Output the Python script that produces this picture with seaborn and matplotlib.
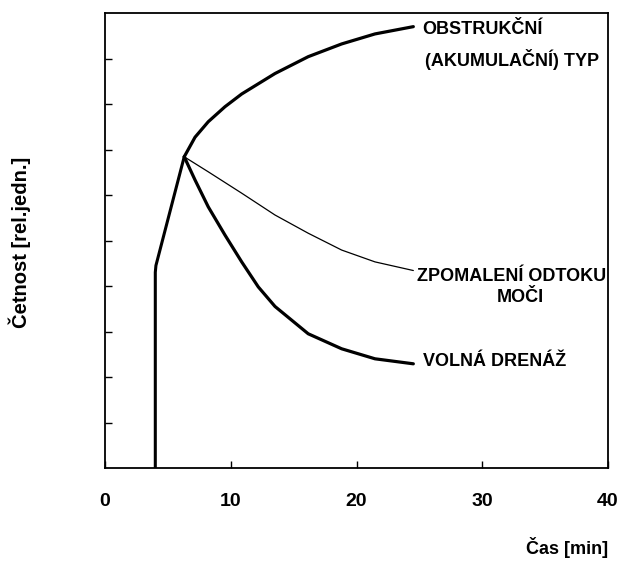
import matplotlib
matplotlib.use("Agg")
import matplotlib.pyplot as plt
import seaborn as sns
import pandas as pd

# time [min] / counts [rel. units]
rise_x = [4.0, 4.0, 4.05, 6.3]
rise_y = [0.0, 4.3, 4.45, 6.84]

obstr_x = [6.3, 7.16, 8.21, 9.54, 10.87, 13.52, 16.16, 18.82, 21.47, 24.52]
obstr_y = [6.84, 7.27, 7.61, 7.94, 8.22, 8.67, 9.04, 9.32, 9.54, 9.70]

slow_x = [6.3, 8.21, 10.87, 13.52, 16.16, 18.82, 21.47, 24.52]
slow_y = [6.84, 6.51, 6.04, 5.56, 5.16, 4.79, 4.53, 4.34]

free_x = [6.3, 7.16, 8.21, 9.54, 10.87, 12.19, 13.52, 16.16, 18.82, 21.47, 24.52]
free_y = [6.84, 6.33, 5.74, 5.12, 4.53, 3.98, 3.55, 2.95, 2.62, 2.40, 2.29]

x_ticks = [0, 10, 20, 30, 40]
y_ticks = [1, 2, 3, 4, 5, 6, 7, 8, 9]

sns.set_style("white")
plt.rcParams['font.family'] = ['Liberation Sans', 'DejaVu Sans']

fig = plt.figure(figsize=(6.21, 5.63), dpi=100)
ax = fig.add_axes([105 / 621, 95 / 563, 503 / 621, 455 / 563])

def curve(xs, ys, lw):
    df = pd.DataFrame({"t": xs, "c": ys})
    sns.lineplot(data=df, x="t", y="c", sort=False, estimator=None,
                 color="black", linewidth=lw, ax=ax,
                 solid_capstyle="round", solid_joinstyle="round")

curve(rise_x, rise_y, 2.2)
curve(obstr_x, obstr_y, 2.3)
curve(slow_x, slow_y, 0.9)
curve(free_x, free_y, 2.3)

ax.set_xlim(0, 40)
ax.set_ylim(0, 10)
ax.set_xticks(x_ticks)
ax.set_yticks(y_ticks)
ax.set_yticklabels([])
ax.set_xlabel("")
ax.set_ylabel("")
ax.tick_params(axis="both", direction="in", length=5, width=1,
               color="black", bottom=True, left=True)
ax.tick_params(axis="x", pad=18, labelsize=14, labelcolor="black")
for lbl in ax.get_xticklabels():
    lbl.set_fontweight("bold")
for s in ax.spines.values():
    s.set_visible(True)
    s.set_color("black")
    s.set_linewidth(1.3)

kw = dict(fontsize=13, fontweight="bold", va="center", ha="left", color="black")
ax.text(25.2, 9.63, "OBSTRUKČNÍ", **kw)
ax.text(25.45, 8.97, "(AKUMULAČNÍ) TYP", **kw)
ax.text(24.8, 4.20, "ZPOMALENÍ ODTOKU", **kw)
ax.text(33.0, 3.74, "MOČI", fontsize=13, fontweight="bold", va="center",
        ha="center", color="black")
ax.text(25.3, 2.33, "VOLNÁ DRENÁŽ", **kw)

fig.text(567 / 621, 1 - 547 / 563, "Čas [min]", fontsize=13, fontweight="bold",
         ha="center", va="center", color="black")
fig.text(20 / 621, 1 - 242 / 563, "Četnost [rel.jedn.]", fontsize=14.5,
         fontweight="bold", ha="center", va="center", rotation=90, color="black")

fig.savefig("out.png", dpi=100)
